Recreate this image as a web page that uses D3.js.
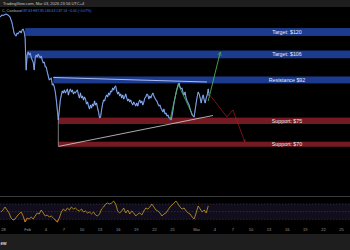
<!DOCTYPE html>
<html><head><meta charset="utf-8">
<script src="https://cdn.jsdelivr.net/npm/d3@7/dist/d3.min.js"></script>
<style>html,body{margin:0;padding:0;background:#000;overflow:hidden}svg{display:block}</style>
</head><body><svg id="c" width="350" height="250"></svg>
<script>
// ---------- DATA ----------
const priceStart = Date.UTC(2026,0,27,12);   // first 4h close
const priceStepH = 4;
const closes = [129.55,130.18,130.82,130.5,130.82,131.14,131.45,131.14,130.82,130.18,
129.55,127.64,125.73,122.55,119.36,118.09,117.45,119.36,118.73,120.00,
120.64,119.36,121.27,121.91,120.00,116.18,97.38,105.46,107.27,105.46,
106.64,104.38,102.77,101.69,97.38,103.85,105.46,104.38,106.00,104.92,
103.85,104.92,102.77,101.15,101.69,99.00,99.00,96.31,94.15,92.00,
92.54,93.08,89.93,90.34,89.10,87.02,83.71,79.56,75.41,79.56,
83.71,85.78,87.44,86.61,87.85,86.61,87.44,88.27,85.78,87.44,
88.27,87.02,87.85,86.20,87.02,86.61,87.44,87.85,85.78,84.54,
86.61,84.54,85.37,83.71,84.95,84.12,82.05,82.88,81.22,79.98,
81.63,80.39,82.05,81.22,83.29,81.63,82.46,80.39,78.73,76.24,
76.66,79.56,82.05,83.71,83.29,84.95,85.78,84.95,86.61,85.78,
87.44,87.02,88.68,87.85,89.10,89.51,87.44,86.20,87.02,85.37,
86.20,84.54,85.78,84.12,84.95,86.20,84.54,83.29,84.12,82.88,
83.71,82.46,81.63,82.88,82.05,81.22,82.46,81.22,82.88,83.71,
82.46,83.29,81.63,82.88,84.54,84.95,86.20,85.78,84.12,85.37,
84.54,85.78,86.61,85.37,84.54,83.71,83.29,82.05,81.22,81.63,
80.39,79.56,78.73,79.98,77.90,78.32,77.07,77.49,76.24,76.24,
75.41,77.07,79.56,82.46,84.54,86.61,88.27,89.51,90.76,89.10,
88.27,88.68,86.61,85.78,87.02,84.54,83.29,82.46,81.63,79.98,
78.73,77.49,77.07,76.66,79.56,82.46,84.95,87.02,86.20,84.54,
82.46,84.54,85.78,83.71,82.46,84.54,85.78,88.27,85.37];

const rsiStart = Date.UTC(2026,0,27,16);
const rsiStepH = 8;
const rsi = [49.1,54.3,62.1,54.3,46.5,33.4,28.2,30.8,38.6,43.9,
49.1,38.6,23.0,33.4,30.8,36.0,30.8,38.6,46.5,43.9,
54.3,46.5,38.6,41.3,36.0,38.6,33.4,28.2,23.0,33.4,
49.1,56.9,51.7,59.5,54.3,62.1,56.9,59.5,54.3,51.7,
56.9,49.1,51.7,46.5,49.1,43.9,49.1,41.3,38.6,43.9,
56.9,62.1,70.0,72.6,70.0,72.6,77.8,70.0,51.7,46.5,
51.7,59.5,46.5,54.3,43.9,51.7,46.5,38.6,43.9,46.5,
41.3,51.7,59.5,56.9,62.1,70.0,62.1,54.3,51.7,46.5,
38.6,43.9,46.5,54.3,62.1,67.4,72.6,77.8,70.0,62.1,
56.9,59.5,51.7,46.5,43.9,36.0,30.8,46.5,64.8,56.9,
49.1,54.3,46.5,64.8];
const rsiLevels = [70, 50, 30];

// price zones
const zoneLabels = ["Target: $120","Target: $106","Resistance $92","Support: $75","Support: $70"];
const zoneKinds  = ["bull","bull","bull","bear","bear"];
const zoneLevels = [120,106,92,75,70];
const zoneHigh   = [122.5,108.2,93.9,76.4,70.5];
const zoneLow    = [117.5,103.7,90.6,74.35,69.4];
const zoneStart  = [Date.UTC(2026,0,31,16),Date.UTC(2026,1,1,0),Date.UTC(2026,1,5,8),Date.UTC(2026,1,6,4),Date.UTC(2026,1,6,4)];

// drawings
const resistanceLine = [[Date.UTC(2026,1,5,8),93.35],[Date.UTC(2026,2,2,19),91.17]];
const supportLine    = [[Date.UTC(2026,1,6,4),69.46],[Date.UTC(2026,2,3,19),77.28]];
const rangeEdge      = [[Date.UTC(2026,1,6,4),76.24],[Date.UTC(2026,1,6,4),69.57]];
const bullPath       = [[Date.UTC(2026,1,24,16),75.41],[Date.UTC(2026,1,26,0),90.34],[Date.UTC(2026,1,28,12),77.07]];
const bullArrow      = [[Date.UTC(2026,2,3,0),83.29],[Date.UTC(2026,2,5,0),107.27]];
const bearArrow      = [[Date.UTC(2026,2,3,0),86.61],[Date.UTC(2026,2,6,3),76.66],[Date.UTC(2026,2,7,2),79.56],[Date.UTC(2026,2,9,2),70.43]];

// axis ticks
const tickDates  = [[0,28],[1,1],[1,4],[1,7],[1,10],[1,13],[1,16],[1,19],[1,22],[1,25],[2,1],[2,4],[2,7],[2,10],[2,13],[2,16],[2,19],[2,22],[2,25]];
const tickLabels = ["28","Feb","4","7","10","13","16","19","22","25","Mar","4","7","10","13","16","19","22","25"];

const headerText = "TradingView.com, Mar 03, 2026 23:56 UTC+4";
const symbolText = "C, Coinbase";
const ohlcText   = "O87.63 H87.85 L86.63 C87.54 \u22120.04 (\u22120.07%)";
const footerText = "ew";

// ---------- DRAW ----------
const W = 350, H = 250;
const svg = d3.select("#c");
const font = "'Liberation Sans', Arial, sans-serif";

const x = d3.scaleUtc().domain([Date.UTC(2026,0,28), Date.UTC(2026,2,25)]).range([3, 341]);
const y = d3.scaleLinear().domain([70,75,92,106,120]).range([144,121,80,54,32]);
const yr = d3.scaleLinear().domain([0,100]).range([230.8,192.5]);

svg.append("rect").attr("width",W).attr("height",H).attr("fill","#000");

const defs = svg.append("defs");
defs.append("clipPath").attr("id","mainClip")
  .append("rect").attr("x",0).attr("y",7).attr("width",W).attr("height",189);
function marker(id,color){
  defs.append("marker").attr("id",id).attr("viewBox","0 0 10 10").attr("refX",9).attr("refY",5)
    .attr("markerWidth",5).attr("markerHeight",5).attr("orient","auto-start-reverse")
    .append("path").attr("d","M1,1 L9,5 L1,9").attr("fill","none").attr("stroke",color).attr("stroke-width",1.4);
}
marker("gArrow","#4caf50");
marker("rArrow","#a31d24");

const main = svg.append("g").attr("clip-path","url(#mainClip)");

// zones
const zoneFill = {bull:"#1c3b8f", bear:"#751a22"};
zoneLabels.forEach((lab,i)=>{
  main.append("rect")
    .attr("x", x(zoneStart[i])).attr("y", y(zoneHigh[i]))
    .attr("width", W - x(zoneStart[i])).attr("height", y(zoneLow[i]) - y(zoneHigh[i]))
    .attr("fill", zoneFill[zoneKinds[i]]);
  main.append("text").attr("x",287).attr("y", y(zoneLevels[i]) + ( i===3 ? -0.5 : 0))
    .attr("text-anchor","middle").attr("dominant-baseline","central")
    .attr("font-family",font).attr("font-size",5.3).attr("fill","#e8ecf5").text(lab);
});

const lineXY = d3.line().x(d=>x(d[0])).y(d=>y(d[1]));

// support trend line & edge
main.append("path").attr("d",lineXY(supportLine)).attr("fill","none").attr("stroke","#d8d8d8").attr("stroke-width",0.8);
main.append("path").attr("d",lineXY(rangeEdge)).attr("fill","none").attr("stroke","#c8c8c8").attr("stroke-width",0.6);

// price line
const priceLine = d3.line()
  .x((d,i)=>x(priceStart + i*priceStepH*3600e3))
  .y(d=>y(d));
main.append("path").attr("d",priceLine(closes)).attr("fill","none")
  .attr("stroke","#3d6cc8").attr("stroke-width",1.1).attr("stroke-linejoin","round");
main.append("path").attr("d",priceLine(closes)).attr("fill","none")
  .attr("stroke","#c6d3ee").attr("stroke-width",0.55).attr("stroke-opacity",0.9).attr("stroke-linejoin","round");

// resistance line
main.append("path").attr("d",lineXY(resistanceLine)).attr("fill","none").attr("stroke","#a9bcef").attr("stroke-width",1);

// projections
main.append("path").attr("d",lineXY(bullPath)).attr("fill","none").attr("stroke","#4caf50").attr("stroke-width",0.8);
main.append("path").attr("d",lineXY(bullArrow)).attr("fill","none").attr("stroke","#4caf50").attr("stroke-width",0.9).attr("marker-end","url(#gArrow)");
main.append("path").attr("d",lineXY(bearArrow)).attr("fill","none").attr("stroke","#a31d24").attr("stroke-width",0.7).attr("marker-end","url(#rArrow)");

// header bar
svg.append("rect").attr("x",0).attr("y",0).attr("width",W).attr("height",7).attr("fill","#1e1e1e");
svg.append("text").attr("x",3).attr("y",5).attr("font-family",font).attr("font-size",4).attr("fill","#c8c8c8").text(headerText);
svg.append("text").attr("x",2).attr("y",12).attr("font-family",font).attr("font-size",3.6).attr("fill","#b0b0b0").text(symbolText);
svg.append("text").attr("x",21).attr("y",12).attr("font-family",font).attr("font-size",3.4).attr("fill","#3f7be0").text(ohlcText);

// RSI pane
svg.append("line").attr("x1",0).attr("x2",W).attr("y1",196.5).attr("y2",196.5).attr("stroke","#3a3a3a").attr("stroke-width",1);
svg.append("rect").attr("x",0).attr("y",yr(70)).attr("width",W).attr("height",yr(30)-yr(70)).attr("fill","#110d1c");
rsiLevels.forEach(v=>{
  svg.append("line").attr("x1",0).attr("x2",W).attr("y1",yr(v)).attr("y2",yr(v))
    .attr("stroke","#4a4a55").attr("stroke-width",0.5).attr("stroke-dasharray","1.5,1.5");
});
const rsiLine = d3.line().x((d,i)=>x(rsiStart + i*rsiStepH*3600e3)).y(d=>yr(d));
svg.append("path").attr("d",rsiLine(rsi)).attr("fill","none").attr("stroke","#c79d22").attr("stroke-width",0.8);
defs.append("clipPath").attr("id","osClip").append("rect").attr("x",0).attr("y",yr(30)).attr("width",W).attr("height",20);
svg.append("path").attr("d",rsiLine(rsi)).attr("fill","none").attr("stroke","#e0661a").attr("stroke-width",0.9).attr("clip-path","url(#osClip)");

// x axis
const axis = d3.axisBottom(x)
  .tickValues(tickDates.map(d=>new Date(Date.UTC(2026,d[0],d[1]))))
  .tickFormat((d,i)=>tickLabels[i]).tickSize(0).tickPadding(0);
const ax = svg.append("g").attr("transform","translate(0,228.5)").call(axis);
ax.select(".domain").remove();
ax.selectAll("text").attr("font-family",font).attr("font-size",4).attr("fill","#9a9a9a");

// bottom bar
svg.append("rect").attr("x",0).attr("y",234).attr("width",W).attr("height",16).attr("fill","#1e1e1e");
svg.append("text").attr("x",0.5).attr("y",244.5).attr("font-family",font)
  .attr("font-size",4.5).attr("font-weight","bold").attr("fill","#d8d8d8").text(footerText);
</script></body></html>
